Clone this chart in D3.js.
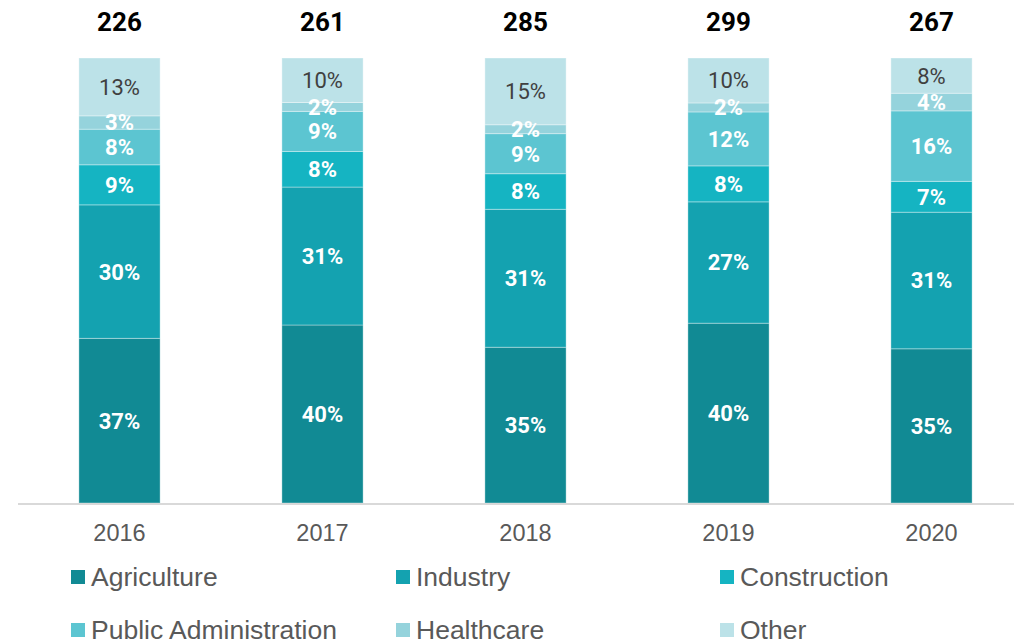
<!DOCTYPE html>
<html>
<head>
<meta charset="utf-8">
<script src="https://cdn.jsdelivr.net/npm/d3@7"></script>
<style>
  body { margin: 0; background: #fff; }
  svg { display: block; }
</style>
</head>
<body>
<svg id="chart"></svg>
<script>
// data
const years = ["2016", "2017", "2018", "2019", "2020"];
const totals = [226, 261, 285, 299, 267];
const sectors = ["Agriculture", "Industry", "Construction", "Public Administration", "Healthcare", "Other"];
const agriculture = [37, 40, 35, 40, 35];
const industry = [30, 31, 31, 27, 31];
const construction = [9, 8, 8, 8, 7];
const publicAdmin = [8, 9, 9, 12, 16];
const healthcare = [3, 2, 2, 2, 4];
const other = [13, 10, 15, 10, 8];

const colors = ["#118a94", "#14a2b0", "#15b4c2", "#5cc5d1", "#95d3dc", "#bce2e8"];

const width = 1014, height = 643;
const svg = d3.select("#chart")
    .attr("width", width)
    .attr("height", height);

const rows = years.map((y, i) => ({
    year: y,
    "Agriculture": agriculture[i],
    "Industry": industry[i],
    "Construction": construction[i],
    "Public Administration": publicAdmin[i],
    "Healthcare": healthcare[i],
    "Other": other[i]
}));

const stacked = d3.stack()
    .keys(sectors)
    .offset(d3.stackOffsetExpand)(rows);

const xScale = d3.scaleBand()
    .domain(years)
    .range([18, 1033])
    .paddingInner(0.6)
    .paddingOuter(0.3);

const yScale = d3.scaleLinear()
    .domain([0, 1])
    .range([503, 58]);

const colorScale = d3.scaleOrdinal().domain(sectors).range(colors);

// bars
const layers = svg.append("g").selectAll("g")
    .data(stacked)
    .join("g")
    .attr("fill", d => colorScale(d.key));

layers.selectAll("rect")
    .data(d => d)
    .join("rect")
    .attr("x", d => xScale(d.data.year))
    .attr("width", xScale.bandwidth())
    .attr("y", d => yScale(d[1]))
    .attr("height", d => yScale(d[0]) - yScale(d[1]))
    .attr("stroke", "rgba(255,255,255,0.35)")
    .attr("stroke-width", 1);

// segment labels
stacked.forEach(layer => {
    const isOther = layer.key === "Other";
    svg.append("g").selectAll("text")
        .data(layer)
        .join("text")
        .attr("x", d => xScale(d.data.year) + xScale.bandwidth() / 2)
        .attr("y", d => (yScale(d[0]) + yScale(d[1])) / 2)
        .attr("dy", "0.36em")
        .attr("text-anchor", "middle")
        .attr("font-family", "Roboto, sans-serif")
        .attr("font-size", 22)
        .attr("font-weight", isOther ? 400 : 700)
        .attr("fill", isOther ? "#404040" : "#fff")
        .text(d => d.data[layer.key] + "%");
});

// totals on top
svg.append("g").selectAll("text")
    .data(years)
    .join("text")
    .attr("x", d => xScale(d) + xScale.bandwidth() / 2)
    .attr("y", 31)
    .attr("text-anchor", "middle")
    .attr("font-family", "Roboto, sans-serif")
    .attr("font-size", 26)
    .attr("font-weight", 700)
    .attr("fill", "#000")
    .text((d, i) => totals[i]);

// x axis
const xAxisGroup = svg.append("g")
    .attr("transform", "translate(0, 504)")
    .call(d3.axisBottom(xScale).tickSize(0).tickPadding(20));
xAxisGroup.select(".domain")
    .attr("d", "M18,0H1014")
    .attr("stroke", "#d9d9d9")
    .attr("stroke-width", 2);
xAxisGroup.selectAll("text")
    .attr("font-family", "'Liberation Sans', Arial, sans-serif")
    .attr("font-size", 23.5)
    .attr("fill", "#595959");

// legend
const legendX = [71, 396, 720];
const legendY = [577, 630];
const legend = svg.append("g").selectAll("g")
    .data(sectors)
    .join("g")
    .attr("transform", (d, i) => `translate(${legendX[i % 3]}, ${legendY[Math.floor(i / 3)]})`);

legend.append("rect")
    .attr("x", 0)
    .attr("y", -7)
    .attr("width", 14)
    .attr("height", 14)
    .attr("fill", d => colorScale(d));

legend.append("text")
    .attr("x", 20)
    .attr("y", 0)
    .attr("dy", "0.35em")
    .attr("font-family", "'Liberation Sans', Arial, sans-serif")
    .attr("font-size", 26.5)
    .attr("fill", "#595959")
    .text(d => d);
</script>
</body>
</html>
